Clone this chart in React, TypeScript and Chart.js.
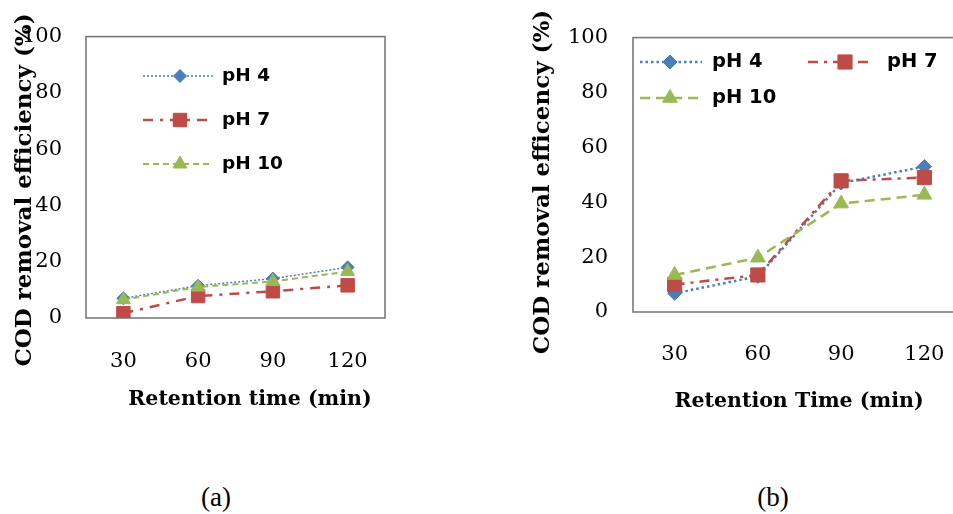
import React, { useEffect, useRef } from 'react';
import { Chart, registerables } from 'chart.js';

Chart.register(...registerables);

// ---------- data ----------
const retentionTimes = ['30', '60', '90', '120'];
const seriesNames = ['pH 4', 'pH 7', 'pH 10'];
const yTickValues = [0, 20, 40, 60, 80, 100];

const panelA_pH4 = [7, 11.5, 14, 18];
const panelA_pH7 = [1.7, 7.8, 9.5, 11.6];
const panelA_pH10 = [6.5, 11, 13, 16.5];

const panelB_pH4 = [6.8, 13, 47, 53];
const panelB_pH7 = [10, 13.5, 47.8, 49];
const panelB_pH10 = [13.5, 19.8, 39.5, 42.7];

const panelA_xTitle = 'Retention time (min)';
const panelA_yTitle = 'COD removal efficiency (%)';
const panelB_xTitle = 'Retention Time (min)';
const panelB_yTitle = 'COD removal efficency (%)';
const captions = ['(a)', '(b)'];

// ---------- styles ----------
const BLUE = '#4A7EBB';
const RED = '#BE4B48';
const GREEN = '#98B954';
const TICK_FONT = { family: '"DejaVu Serif", serif', size: 21 };
const TITLE_FONT = 'bold 23px "DejaVu Serif", serif';
const XTITLE_FONT = 'bold 20.5px "DejaVu Serif", serif';

function drawMarker(ctx: CanvasRenderingContext2D, style: string, x: number, y: number, r: number, color: string) {
  ctx.save();
  ctx.setLineDash([]);
  ctx.fillStyle = color;
  ctx.strokeStyle = color;
  ctx.lineWidth = 1;
  ctx.beginPath();
  if (style === 'rectRot') {
    ctx.moveTo(x - r, y);
    ctx.lineTo(x, y - r);
    ctx.lineTo(x + r, y);
    ctx.lineTo(x, y + r);
  } else if (style === 'rect') {
    const s = r * Math.SQRT1_2;
    ctx.rect(x - s, y - s, 2 * s, 2 * s);
  } else {
    const a = (2 * Math.PI) / 3;
    ctx.moveTo(x, y - r);
    ctx.lineTo(x + Math.sin(a) * r, y - Math.cos(a) * r);
    ctx.lineTo(x + Math.sin(2 * a) * r, y - Math.cos(2 * a) * r);
  }
  ctx.closePath();
  ctx.fill();
  ctx.stroke();
  ctx.restore();
}

const panelDecor = {
  id: 'panelDecor',
  beforeDatasetsDraw(chart: any, _args: any, opts: any) {
    const { ctx, chartArea } = chart;
    ctx.save();
    ctx.strokeStyle = opts.frameColor;
    ctx.lineWidth = opts.frameWidth;
    ctx.setLineDash([]);
    ctx.strokeRect(chartArea.left, chartArea.top, chartArea.right - chartArea.left, chartArea.bottom - chartArea.top);
    ctx.restore();
  },
  afterDraw(chart: any, _args: any, opts: any) {
    const { ctx } = chart;
    // legend
    (opts.legendItems || []).forEach((item: any, i: number) => {
      const ds = chart.data.datasets[i];
      ctx.save();
      ctx.strokeStyle = ds.borderColor;
      ctx.lineWidth = ds.borderWidth;
      ctx.setLineDash(ds.borderDash || []);
      ctx.beginPath();
      ctx.moveTo(item.x1, item.y);
      ctx.lineTo(item.x2, item.y);
      ctx.stroke();
      ctx.restore();
      drawMarker(ctx, ds.pointStyle, item.mx, item.y, ds.pointRadius, ds.backgroundColor);
      ctx.save();
      ctx.fillStyle = '#000';
      ctx.font = opts.legendFont;
      ctx.textAlign = 'left';
      ctx.textBaseline = 'middle';
      ctx.fillText(ds.label, item.tx, item.y);
      ctx.restore();
    });
    // axis titles
    (opts.titles || []).forEach((t: any) => {
      ctx.save();
      ctx.translate(t.x, t.y);
      ctx.rotate(t.rotation || 0);
      ctx.fillStyle = '#000';
      ctx.font = t.font;
      ctx.textAlign = 'center';
      ctx.textBaseline = 'middle';
      ctx.fillText(t.text, 0, 0);
      ctx.restore();
    });
  },
};

type PanelSpec = {
  width: number;
  height: number;
  top: number;
  right: number;
  yAxisWidth: number;
  xAxisHeight: number;
  yTickPad: number;
  xTickPad: number;
  values: number[][];
  widths: number[];
  dashes: number[][];
  radii: number[];
  legendItems: any[];
  legendFont: string;
  titles: any[];
};

function makeConfig(p: PanelSpec): any {
  const colors = [BLUE, RED, GREEN];
  const styles = ['rectRot', 'rect', 'triangle'];
  return {
    type: 'line',
    data: {
      labels: retentionTimes,
      datasets: seriesNames.map((name, i) => ({
        label: name,
        data: p.values[i],
        borderColor: colors[i],
        backgroundColor: colors[i],
        pointBackgroundColor: colors[i],
        pointBorderColor: colors[i],
        pointBorderWidth: 1,
        borderWidth: p.widths[i],
        borderDash: p.dashes[i],
        pointStyle: styles[i],
        pointRadius: p.radii[i],
        tension: 0,
        fill: false,
        order: 3 - i,
      })),
    },
    options: {
      responsive: false,
      animation: false,
      layout: { padding: { left: 0, top: p.top, right: p.right, bottom: 0 } },
      plugins: {
        legend: { display: false },
        tooltip: { enabled: false },
        panelDecor: {
          frameColor: '#7a7a7a',
          frameWidth: 1.6,
          legendItems: p.legendItems,
          legendFont: p.legendFont,
          titles: p.titles,
        },
      },
      scales: {
        x: {
          type: 'category',
          offset: true,
          grid: { display: false, drawTicks: false },
          border: { display: false },
          ticks: { font: TICK_FONT, color: '#000', padding: p.xTickPad, maxRotation: 0, autoSkip: false },
          afterFit: (s: any) => {
            s.height = p.xAxisHeight;
          },
        },
        y: {
          min: 0,
          max: 100,
          afterBuildTicks: (s: any) => {
            s.ticks = yTickValues.map((v) => ({ value: v }));
          },
          grid: { display: false, drawTicks: false },
          border: { display: false },
          ticks: { font: TICK_FONT, color: '#000', padding: p.yTickPad },
          afterFit: (s: any) => {
            s.width = p.yAxisWidth;
          },
        },
      },
    },
    plugins: [panelDecor],
  };
}

const specA: PanelSpec = {
  width: 400,
  height: 430,
  top: 24,
  right: 7,
  yAxisWidth: 86,
  xAxisHeight: 112,
  yTickPad: 24,
  xTickPad: 31,
  values: [panelA_pH4, panelA_pH7, panelA_pH10],
  widths: [1.5, 2.5, 2],
  dashes: [[2, 2], [10, 7, 3, 7], [6, 4]],
  radii: [6.5, 9.5, 8],
  legendItems: [
    { x1: 143, x2: 213, mx: 180, tx: 222, y: 76 },
    { x1: 143, x2: 213, mx: 180, tx: 222, y: 120 },
    { x1: 143, x2: 213, mx: 180, tx: 222, y: 164 },
  ],
  legendFont: 'bold 18.5px "DejaVu Sans", sans-serif',
  titles: [
    { text: panelA_yTitle, x: 25, y: 190, rotation: -Math.PI / 2, font: TITLE_FONT },
    { text: panelA_xTitle, x: 250, y: 400, rotation: 0, font: XTITLE_FONT },
  ],
};

const specB: PanelSpec = {
  width: 460,
  height: 430,
  top: 21,
  right: 14,
  yAxisWidth: 113,
  xAxisHeight: 118,
  yTickPad: 25,
  xTickPad: 30,
  values: [panelB_pH4, panelB_pH7, panelB_pH10],
  widths: [2.5, 2.5, 2.5],
  dashes: [[2.5, 3], [10, 6, 3, 6], [10, 6]],
  radii: [7, 10, 8.5],
  legendItems: [
    { x1: 120, x2: 182, mx: 150, tx: 192, y: 62 },
    { x1: 288, x2: 350, mx: 325, tx: 367, y: 62 },
    { x1: 120, x2: 182, mx: 150, tx: 192, y: 98 },
  ],
  legendFont: 'bold 19.5px "DejaVu Sans", sans-serif',
  titles: [
    { text: panelB_yTitle, x: 23, y: 182, rotation: -Math.PI / 2, font: TITLE_FONT },
    { text: panelB_xTitle, x: 279, y: 402, rotation: 0, font: XTITLE_FONT },
  ],
};

function Panel({ spec }: { spec: PanelSpec }) {
  const ref = useRef<HTMLCanvasElement | null>(null);
  useEffect(() => {
    if (!ref.current) return;
    const chart = new Chart(ref.current, makeConfig(spec));
    return () => chart.destroy();
  }, [spec]);
  return <canvas ref={ref} width={spec.width} height={spec.height} style={{ display: 'block' }} />;
}

export default function App() {
  return (
    <div
      style={{
        position: 'absolute',
        left: 0,
        top: 0,
        width: 953,
        height: 514,
        overflow: 'hidden',
        background: '#fff',
      }}
    >
      <div style={{ position: 'absolute', left: 0, top: 0, width: 400, height: 430 }}>
        <Panel spec={specA} />
      </div>
      <div style={{ position: 'absolute', left: 520, top: 0, width: 433, height: 430, overflow: 'hidden' }}>
        <Panel spec={specB} />
      </div>
      {captions.map((c, i) => (
        <div
          key={c}
          style={{
            position: 'absolute',
            left: i === 0 ? 166 : 723,
            top: 480,
            width: 100,
            textAlign: 'center',
            fontFamily: '"Liberation Serif", "Times New Roman", serif',
            fontSize: 27,
            lineHeight: '34px',
            color: '#000',
          }}
        >
          {c}
        </div>
      ))}
    </div>
  );
}
